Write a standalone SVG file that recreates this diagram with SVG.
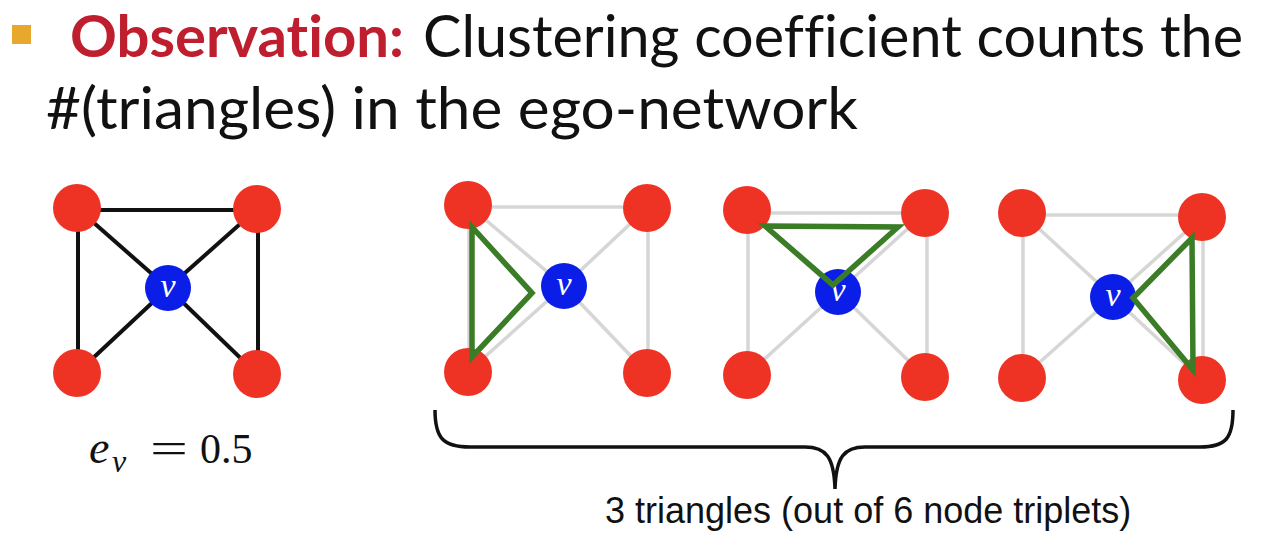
<svg xmlns="http://www.w3.org/2000/svg" width="1284" height="541" viewBox="0 0 1284 541">
<style>
.red{fill:#EE3325}
.blue{fill:#0B1EE8}
.vl{font-family:"Liberation Serif",serif;font-style:italic;font-size:34px;fill:#fff;text-anchor:middle}
.blk{stroke:#111;stroke-width:4;stroke-linecap:butt}
.gry{stroke:#D6D6D6;stroke-width:3.5}
.grn{fill:none;stroke:#3A7D26;stroke-width:5.5;stroke-linejoin:miter}
.title{font-family:Lato,"Liberation Sans",sans-serif;font-size:58px;fill:#111;font-variant-ligatures:none}
.math{font-family:"Liberation Serif",serif;fill:#111}
</style>
<rect width="1284" height="541" fill="#fff"/>
<g id="title">
<rect x="12" y="25" width="19" height="19" fill="#E8A82E"/>
<text class="title" x="70" y="57" font-weight="bold" style="fill:#BE1E2D" textLength="334" lengthAdjust="spacingAndGlyphs">Observation:</text>
<text class="title" x="423" y="57" textLength="820" lengthAdjust="spacingAndGlyphs">Clustering coefficient counts the</text>
<text class="title" x="46" y="129" textLength="812" lengthAdjust="spacingAndGlyphs">#(triangles) in the ego-network</text>
</g>
<g id="connectors">
<g class="blk">
<line x1="77" y1="210" x2="257" y2="210"/>
<line x1="78" y1="208" x2="78" y2="373"/>
<line x1="258" y1="209" x2="258" y2="352"/>
<line x1="77" y1="208" x2="168" y2="288"/>
<line x1="257" y1="209" x2="168" y2="288"/>
<line x1="77" y1="373" x2="168" y2="288"/>
<line x1="257" y1="374" x2="168" y2="288"/>
</g>
<g class="gry">
<line x1="468" y1="207" x2="647" y2="207"/>
<line x1="469" y1="205" x2="469" y2="372"/>
<line x1="648" y1="208" x2="648" y2="373"/>
<line x1="468" y1="205" x2="564" y2="286"/>
<line x1="647" y1="208" x2="564" y2="286"/>
<line x1="468" y1="372" x2="564" y2="286"/>
<line x1="647" y1="373" x2="564" y2="286"/>
</g>
<g class="gry">
<line x1="747" y1="213" x2="925" y2="213"/>
<line x1="748" y1="210" x2="748" y2="375"/>
<line x1="927" y1="213" x2="927" y2="377"/>
<line x1="747" y1="210" x2="838" y2="292"/>
<line x1="925" y1="213" x2="838" y2="292"/>
<line x1="747" y1="375" x2="838" y2="292"/>
<line x1="925" y1="377" x2="838" y2="292"/>
</g>
<g class="gry">
<line x1="1022" y1="215" x2="1202" y2="215"/>
<line x1="1023" y1="213" x2="1023" y2="378"/>
<line x1="1203" y1="217" x2="1203" y2="380"/>
<line x1="1022" y1="213" x2="1113" y2="297"/>
<line x1="1202" y1="217" x2="1113" y2="297"/>
<line x1="1022" y1="378" x2="1113" y2="297"/>
<line x1="1202" y1="380" x2="1113" y2="297"/>
</g>
</g>
<g id="g1-tl"><circle class="red" cx="77" cy="208" r="24"/></g>
<g id="g1-tr"><circle class="red" cx="257" cy="209" r="24"/></g>
<g id="g1-bl"><circle class="red" cx="77" cy="373" r="24"/></g>
<g id="g1-br"><circle class="red" cx="257" cy="374" r="24"/></g>
<g id="g1-v"><circle class="blue" cx="168" cy="288" r="23"/><text class="vl" x="168" y="297">v</text></g>
<g id="g2-tl"><circle class="red" cx="468" cy="205" r="24"/></g>
<g id="g2-tr"><circle class="red" cx="647" cy="208" r="24"/></g>
<g id="g2-bl"><circle class="red" cx="468" cy="372" r="24"/></g>
<g id="g2-br"><circle class="red" cx="647" cy="373" r="24"/></g>
<g id="g2-v"><circle class="blue" cx="564" cy="286" r="23"/><text class="vl" x="564" y="295">v</text></g>
<g id="g3-tl"><circle class="red" cx="747" cy="210" r="24"/></g>
<g id="g3-tr"><circle class="red" cx="925" cy="213" r="24"/></g>
<g id="g3-bl"><circle class="red" cx="747" cy="375" r="24"/></g>
<g id="g3-br"><circle class="red" cx="925" cy="377" r="24"/></g>
<g id="g3-v"><circle class="blue" cx="838" cy="292" r="23"/><text class="vl" x="838" y="301">v</text></g>
<g id="g4-tl"><circle class="red" cx="1022" cy="213" r="24"/></g>
<g id="g4-tr"><circle class="red" cx="1202" cy="217" r="24"/></g>
<g id="g4-bl"><circle class="red" cx="1022" cy="378" r="24"/></g>
<g id="g4-br"><circle class="red" cx="1202" cy="380" r="24"/></g>
<g id="g4-v"><circle class="blue" cx="1113" cy="297" r="23"/><text class="vl" x="1113" y="306">v</text></g>
<g id="triangles">
<polygon class="grn" points="472,227 532,293 472,357"/>
<polygon class="grn" points="765,226 898,227 833,285"/>
<polygon class="grn" points="1192,238 1133,298 1193,370"/>
</g>
<g id="brace">
<path d="M435,410 C435,438 443,447 470,447 L805,447 C826,447 834,457 835,489 C836,457 844,447 865,447 L1200,447 C1226,447 1233,438 1233,410" fill="none" stroke="#111" stroke-width="3.5"/>
</g>
<g id="labels">
<text class="math" x="89" y="463" font-size="46" font-style="italic">e</text>
<text class="math" x="112" y="472" font-size="32" font-style="italic">v</text>
<text class="math" x="150" y="463" font-size="44" textLength="38" lengthAdjust="spacingAndGlyphs">=</text>
<text class="math" x="200" y="463" font-size="42">0.5</text>
<text x="605" y="523" font-family="Liberation Sans,Arial,sans-serif" font-size="36" fill="#111">3 triangles (out of 6 node triplets)</text>
</g>
</svg>
